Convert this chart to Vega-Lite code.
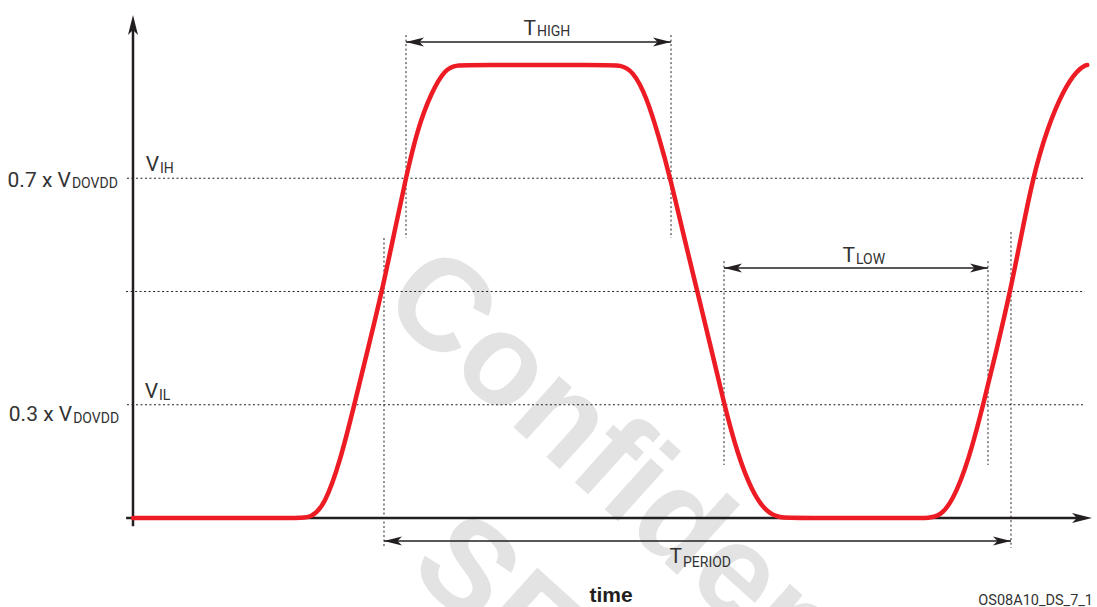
{
  "$schema": "https://vega.github.io/schema/vega-lite/v6.json",
  "width": 1097,
  "height": 607,
  "autosize": {"type": "none"},
  "padding": 0,
  "background": "white",
  "config": {"view": {"stroke": null}},
  "datasets": {
    "wave": [
      {"t": 0, "v": 0}, {"t": 2.6, "v": 0}, {"t": 2.85, "v": 0}, {"t": 3.06, "v": 3.0}, {"t": 3.30, "v": 12.3},
      {"t": 3.53, "v": 25}, {"t": 3.75, "v": 37.5}, {"t": 3.97, "v": 50}, {"t": 4.16, "v": 62.5},
      {"t": 4.35, "v": 75}, {"t": 4.54, "v": 86}, {"t": 4.76, "v": 94}, {"t": 4.98, "v": 99.2},
      {"t": 5.17, "v": 100}, {"t": 5.4, "v": 100}, {"t": 7.55, "v": 100}, {"t": 7.77, "v": 100}, {"t": 7.97, "v": 98.8}, {"t": 8.19, "v": 93},
      {"t": 8.38, "v": 84.5}, {"t": 8.57, "v": 75}, {"t": 8.78, "v": 62.5}, {"t": 9.0, "v": 50},
      {"t": 9.22, "v": 37.5}, {"t": 9.43, "v": 25}, {"t": 9.64, "v": 14.2}, {"t": 9.86, "v": 6.2},
      {"t": 10.1, "v": 1.2}, {"t": 10.32, "v": 0}, {"t": 10.55, "v": 0}, {"t": 12.6, "v": 0}, {"t": 12.84, "v": 0}, {"t": 13.07, "v": 3.5},
      {"t": 13.33, "v": 12.8}, {"t": 13.56, "v": 25}, {"t": 13.78, "v": 37.5}, {"t": 13.99, "v": 50},
      {"t": 14.17, "v": 62.5}, {"t": 14.35, "v": 75}, {"t": 14.58, "v": 86}, {"t": 14.84, "v": 94.5},
      {"t": 15.06, "v": 98.9}, {"t": 15.2, "v": 100}, {"t": 15.22, "v": 100}
    ],
    "levels": [
      {"t": -0.096, "t2": 15.18, "v": 75, "v2": 75},
      {"t": -0.11, "t2": 15.18, "v": 50, "v2": 50},
      {"t": -0.096, "t2": 15.18, "v": 25, "v2": 25}
    ],
    "markers": [
      {"t": 4.003, "t2": 4.003, "v": 61.8, "v2": -6.6},
      {"t": 4.354, "t2": 4.354, "v": 106.6, "v2": 61.8},
      {"t": 8.581, "t2": 8.581, "v": 106.6, "v2": 61.8},
      {"t": 9.426, "t2": 9.426, "v": 56.7, "v2": 11.7},
      {"t": 13.636, "t2": 13.636, "v": 56.7, "v2": 11.7},
      {"t": 14.003, "t2": 14.003, "v": 63.1, "v2": -6.6}
    ],
    "spans": [
      {"t": 4.354, "t2": 8.581, "v": 105.08, "v2": 105.08},
      {"t": 9.426, "t2": 13.636, "v": 55.19, "v2": 55.19},
      {"t": 4.003, "t2": 14.003, "v": -5.08, "v2": -5.08}
    ],
    "axes": [
      {"t": -0.11, "t2": 15.06, "v": 0, "v2": 0},
      {"t": 0, "t2": 0, "v": -1.8, "v2": 107.7}
    ],
    "headsRight": [
      {"t": 8.581, "v": 105.08},
      {"t": 13.636, "v": 55.19},
      {"t": 14.003, "v": -5.08}
    ],
    "headsLeft": [
      {"t": 4.354, "v": 105.08},
      {"t": 9.426, "v": 55.19},
      {"t": 4.003, "v": -5.08}
    ],
    "axisRight": [{"t": 15.295, "v": 0}],
    "axisUp": [{"t": 0, "v": 111.04}],
    "mainText": [
      {"t": -0.99, "v": 73.1, "txt": "0.7 x V"},
      {"t": -0.97, "v": 21.5, "txt": "0.3 x V"},
      {"t": 0.415, "v": 76.6, "txt": "V"},
      {"t": 0.399, "v": 26.5, "txt": "V"},
      {"t": 6.427, "v": 106.6, "txt": "T"},
      {"t": 11.515, "v": 56.5, "txt": "T"},
      {"t": 8.756, "v": -9.93, "txt": "T"}
    ],
    "subText": [
      {"t": -0.99, "v": 72.85, "txt": "DOVDD"},
      {"t": -0.97, "v": 21.0, "txt": "DOVDD"},
      {"t": 0.415, "v": 76.2, "txt": "IH"},
      {"t": 0.399, "v": 26.0, "txt": "IL"},
      {"t": 6.427, "v": 106.4, "txt": "HIGH"},
      {"t": 11.515, "v": 56.07, "txt": "LOW"},
      {"t": 8.756, "v": -10.8, "txt": "PERIOD"}
    ],
    "axisTitle": [{"t": 7.624, "v": -18.54, "txt": "time"}],
    "code": [{"t": 15.311, "v": -19.2, "txt": "OS08A10_DS_7_1"}],
    "watermark": [
      {"t": 3.907, "v": 46.98, "txt": "Confidential"},
      {"t": 4.362, "v": -11.61, "txt": "SE"}
    ]
  },
  "encoding": {
    "x": {"field": "t", "type": "quantitative", "scale": {"domain": [-2.1212, 15.3748], "nice": false, "zero": false}, "axis": null},
    "y": {"field": "v", "type": "quantitative", "scale": {"domain": [-19.65, 114.35], "nice": false, "zero": false}, "axis": null}
  },
  "layer": [
    {
      "data": {"name": "watermark"},
      "mark": {"type": "text", "align": "left", "baseline": "alphabetic", "angle": 42, "font": "Liberation Sans", "fontWeight": "bold", "fontSize": 130, "color": "#e3e3e3"},
      "encoding": {"text": {"field": "txt"}}
    },
    {
      "data": {"name": "levels"},
      "mark": {"type": "rule", "color": "#231f20", "strokeWidth": 1, "strokeDash": [2, 2.5]},
      "encoding": {"x2": {"field": "t2"}, "y2": {"field": "v2"}}
    },
    {
      "data": {"name": "markers"},
      "mark": {"type": "rule", "color": "#231f20", "strokeWidth": 1, "strokeDash": [2, 2.5]},
      "encoding": {"x2": {"field": "t2"}, "y2": {"field": "v2"}}
    },
    {
      "data": {"name": "spans"},
      "mark": {"type": "rule", "color": "#231f20", "strokeWidth": 1.3},
      "encoding": {"x2": {"field": "t2"}, "y2": {"field": "v2"}}
    },
    {
      "data": {"name": "headsRight"},
      "mark": {"type": "point", "shape": "M0,0 L-2,-0.5 L-1.5,0 L-2,0.5 Z", "size": 324, "filled": true, "color": "#231f20", "opacity": 1, "strokeWidth": 0}
    },
    {
      "data": {"name": "headsLeft"},
      "mark": {"type": "point", "shape": "M0,0 L2,-0.5 L1.5,0 L2,0.5 Z", "size": 324, "filled": true, "color": "#231f20", "opacity": 1, "strokeWidth": 0}
    },
    {
      "data": {"name": "axes"},
      "mark": {"type": "rule", "color": "#231f20", "strokeWidth": 2.5},
      "encoding": {"x2": {"field": "t2"}, "y2": {"field": "v2"}}
    },
    {
      "data": {"name": "axisRight"},
      "mark": {"type": "point", "shape": "M0,0 L-2,-0.5 L-1.5,0 L-2,0.5 Z", "size": 400, "filled": true, "color": "#231f20", "opacity": 1, "strokeWidth": 0}
    },
    {
      "data": {"name": "axisUp"},
      "mark": {"type": "point", "shape": "M0,0 L-0.5,2 L0,1.5 L0.5,2 Z", "size": 400, "filled": true, "color": "#231f20", "opacity": 1, "strokeWidth": 0}
    },
    {
      "data": {"name": "wave"},
      "mark": {"type": "line", "color": "#ed1c24", "strokeWidth": 4.5, "strokeCap": "round", "strokeJoin": "round", "interpolate": "basis"}
    },
    {
      "data": {"name": "mainText"},
      "mark": {"type": "text", "align": "right", "baseline": "alphabetic", "font": "Liberation Sans Narrow, Roboto, sans-serif", "fontSize": 21, "color": "#333333"},
      "encoding": {"text": {"field": "txt"}}
    },
    {
      "data": {"name": "subText"},
      "mark": {"type": "text", "align": "left", "baseline": "alphabetic", "dx": 1, "font": "Liberation Sans Narrow, Roboto, sans-serif", "fontSize": 14, "color": "#333333"},
      "encoding": {"text": {"field": "txt"}}
    },
    {
      "data": {"name": "axisTitle"},
      "mark": {"type": "text", "align": "center", "baseline": "alphabetic", "font": "Liberation Sans", "fontWeight": "bold", "fontSize": 21, "color": "#231f20"},
      "encoding": {"text": {"field": "txt"}}
    },
    {
      "data": {"name": "code"},
      "mark": {"type": "text", "align": "right", "baseline": "alphabetic", "font": "Liberation Sans Narrow, Roboto, sans-serif", "fontSize": 14.5, "color": "#333333"},
      "encoding": {"text": {"field": "txt"}}
    }
  ]
}
